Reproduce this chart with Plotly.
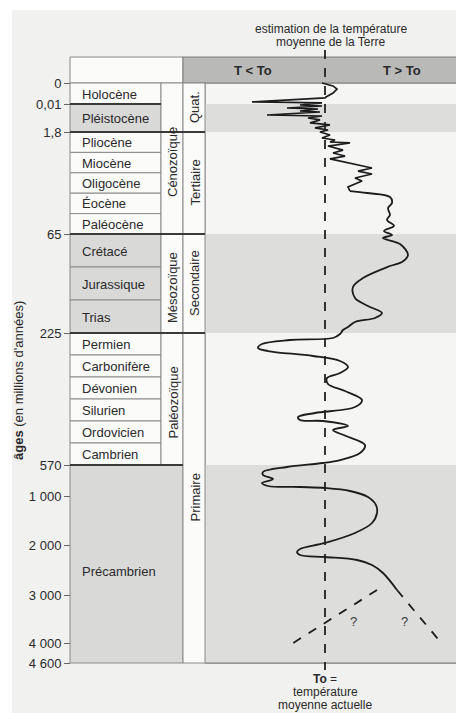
import numpy as np
import plotly.graph_objects as go

# ---------------- data ----------------
AGE_TICKS = [0, 0.01, 1.8, 65, 225, 570, 1000, 2000, 3000, 4000, 4600]
TICK_LABELS = ["0", "0,01", "1,8", "65", "225", "570", "1 000", "2 000", "3 000", "4 000", "4 600"]

QUAT_PERIODS = ["Holocène", "Pléistocène"]
QUAT_BOUNDS = [0, 0.01, 1.8]
TERT_PERIODS = ["Pliocène", "Miocène", "Oligocène", "Éocène", "Paléocène"]
MESO_PERIODS = ["Crétacé", "Jurassique", "Trias"]
PALEO_PERIODS = ["Permien", "Carbonifère", "Dévonien", "Silurien", "Ordovicien", "Cambrien"]
PRECAMB = "Précambrien"

ERAS = ["Cénozoïque", "Mésozoïque", "Paléozoïque"]
ERA_BOUNDS = [0, 65, 225, 570]
SYSTEMS = ["Quat.", "Tertiaire", "Secondaire", "Primaire"]
SYSTEM_BOUNDS = [0, 1.8, 65, 225, 4600]

GREY_BANDS = [(0.01, 1.8), (65, 225), (570, 4600)]

# temperature anomaly (relative to To) vs age (Ma)
RECENT_AGE = [0, 0.0014, 0.0029, 0.0048, 0.0067, 0.0071, 0.009, 0.0095,
              0.074, 0.138, 0.266, 0.33, 0.457, 0.52, 0.713, 0.777, 0.905, 1.03,
              1.22, 1.35, 1.54, 1.67, 1.8,
              3.66, 5.5, 6.76, 8.0, 8.6, 10.5, 13.0, 14.8, 16.7, 18.5, 21.0, 24.1,
              26.0, 27.8, 30.3, 32.2, 35.9, 38.4]
RECENT_T = [-0.3, 0.8, 1.2, 0.8, 0.1, 0.0, -7.3, -0.3,
            -2.5, -0.3, -3.8, -0.7, -2.5, -0.5, -5.8, -0.3, -1.7, -0.5,
            -1.5, 0.5, -1.0, 0.3, -0.5,
            0.5, -0.3, 1.0, 0.5, 2.5, 0.3, 1.8, 0.8, 2.0, 0.5, 2.5, 4.7,
            3.3, 4.7, 3.0, 3.7, 2.3, 2.5]

OLD_AGE = [38.4, 39.6, 42.1, 45.8, 48.9, 53.2, 56.3, 60.0, 63.1,
           66.6, 71.5, 81.2, 98.9, 110.2, 116.7, 136.1, 150.6, 168.4, 181.4,
           192.7, 200.7, 207.2, 215.3, 220.2,
           227.6, 238.1, 243.3, 253.8, 264.2, 272.1, 285.1, 298.2, 313.9, 329.6,
           342.6, 358.3, 376.6, 400.1, 418.4, 434.1, 444.6, 452.4, 455.0,
           468.1, 478.6, 494.2, 517.8, 538.7, 557.0, 564.8,
           597.7, 667.1, 708.7, 764.2, 819.7, 861.3, 875.1, 889.0, 930.6,
           1020, 1184, 1347, 1551, 1755, 1959,
           2080, 2140, 2200, 2240, 2300, 2400, 2560, 2900]
OLD_T = [2.5, 4.2, 6.5, 6.7, 6.3, 6.5, 6.2, 6.9, 5.9,
         6.7, 5.8, 7.5, 8.3, 7.7, 6.5, 3.8, 2.8, 3.0, 4.3,
         5.7, 5.0, 3.0, 2.3, 1.8,
         1.5, 0.8, -3.5, -6.3, -6.7, -5.7, -1.2, 1.5, 2.3, 1.5,
         0.2, 0.3, 2.0, 3.7, 3.0, -1.0, -2.7, -2.5, -0.2,
         2.3, 0.8, 2.1, 4.0, 3.5, 1.5, -0.2,
         -3.8, -6.2, -6.2, -5.2, -6.3, -5.7, -2.5, 0.0, 2.5,
         4.3, 5.1, 5.2, 4.7, 3.0, 0.0,
         -2.5, -2.8, -2.5, 0.0, 3.2, 4.7, 5.8, 7.2]

EXTRAP_AGE = [2900, 4060]
WARM_T = [7.2, 11.8]
COLD_T = [5.2, -3.5]
QMARK_AGE = 3560
QMARK_T = [2.8, 7.9]

# ---------------- layout helpers ----------------
W, H = 464, 713          # browser window
OFF = 8                  # default page body margin
WF, HF = W - OFF, H - OFF
PIX = [83, 104, 132, 234, 333, 465, 496, 545, 595, 643, 663]  # vertical scale breakpoints


def pos(age):
    return np.interp(age, AGE_TICKS, PIX)


def px(x):
    return (x - OFF) / WF


X_LEFT, X_C1, X_C2, X_C3, X_RIGHT = 70, 161, 183, 205, 464
X_TO = 325
Y_HEAD = 57
FONT = "Liberation Sans, Arial, sans-serif"
TXT = "#2a2a2a"
CELL_WHITE = "#fbfbfa"
CELL_GREY = "#d9d9d8"
BAND_WHITE = "#f5f5f4"
BAND_GREY = "#dddddc"
THIN = "#8a8a8a"
THICK = "#3a3a3a"

shapes = []
annotations = []


def rect(x0, x1, y0, y1, fill, line_color=THIN, lw=1):
    shapes.append(dict(type="rect", xref="paper", yref="y", x0=px(x0), x1=px(x1), y0=y0, y1=y1,
                       fillcolor=fill, line=dict(color=line_color, width=lw), layer="below"))


def hline(x0, x1, y, color=THIN, lw=1, layer="below"):
    shapes.append(dict(type="line", xref="paper", yref="y", x0=px(x0), x1=px(x1), y0=y, y1=y,
                       line=dict(color=color, width=lw), layer=layer))


def text(x, y, s, size=13, xanchor="center", angle=0, color=TXT):
    annotations.append(dict(xref="paper", yref="y", x=px(x), y=y, text=s, showarrow=False,
                            xanchor=xanchor, yanchor="middle", textangle=angle,
                            font=dict(family=FONT, size=size, color=color)))


# page background (scan)
shapes.append(dict(type="rect", xref="paper", yref="y", x0=px(12), x1=1.02, y0=10, y1=H + 5,
                   fillcolor="#f1f1ef", line=dict(width=0), layer="below"))

# plot area bands
rect(X_C3, X_RIGHT + 3, PIX[0], PIX[-1], BAND_WHITE, line_color=THIN)
for a0, a1 in GREY_BANDS:
    rect(X_C3, X_RIGHT + 3, pos(a0), pos(a1), BAND_GREY, line_color=BAND_GREY, lw=0)
hline(X_C3, X_RIGHT + 3, PIX[-1], color="#777", lw=1)

# header
rect(X_LEFT, X_C2, Y_HEAD, PIX[0], CELL_WHITE)
rect(X_C2, X_RIGHT + 3, Y_HEAD, PIX[0], "#b9b9b8", line_color="#7a7a7a")


def period_rows(names, a0, a1, greys):
    n = len(names)
    y0, y1 = pos(a0), pos(a1)
    for i, nm in enumerate(names):
        ya = y0 + (y1 - y0) * i / n
        yb = y0 + (y1 - y0) * (i + 1) / n
        rect(X_LEFT, X_C1, ya, yb, CELL_GREY if greys else CELL_WHITE)
        text(80, (ya + yb) / 2 + 0.5, nm, xanchor="left")


for i, nm in enumerate(QUAT_PERIODS):
    ya, yb = pos(QUAT_BOUNDS[i]), pos(QUAT_BOUNDS[i + 1])
    rect(X_LEFT, X_C1, ya, yb, CELL_GREY if i == 1 else CELL_WHITE)
    text(80, (ya + yb) / 2 + 0.5, nm, xanchor="left")
period_rows(TERT_PERIODS, 1.8, 65, False)
period_rows(MESO_PERIODS, 65, 225, True)
period_rows(PALEO_PERIODS, 225, 570, False)
rect(X_LEFT, X_C2, pos(570), pos(4600), CELL_GREY)
text(80, 571, PRECAMB, xanchor="left")

# column 2 eras
for i, nm in enumerate(ERAS):
    ya, yb = pos(ERA_BOUNDS[i]), pos(ERA_BOUNDS[i + 1])
    rect(X_C1, X_C2, ya, yb, CELL_WHITE)
    text((X_C1 + X_C2) / 2 + 0.5, (ya + yb) / 2 + 4, nm, angle=-90)

# column 3 systems
for i, nm in enumerate(SYSTEMS):
    ya, yb = pos(SYSTEM_BOUNDS[i]), pos(SYSTEM_BOUNDS[i + 1])
    rect(X_C2, X_C3, ya, yb, CELL_WHITE)
    text((X_C2 + X_C3) / 2 + 0.5, (ya + yb) / 2, nm, angle=-90)

# thick boundaries
hline(X_LEFT, X_C1, pos(0.01), THICK, 2)
for a in (1.8, 65, 225):
    hline(X_LEFT, X_C3, pos(a), THICK, 2)
hline(X_LEFT, X_C2, pos(570), THICK, 2)

# header texts
text(253, 70, "<b>T &lt; To</b>", size=13)
text(402, 70, "<b>T &gt; To</b>", size=13)
text(331, 29, "estimation de la température", size=12)
text(331, 42, "moyenne de la Terre", size=12)
text(X_TO, 679, "<b>To</b> =", size=12)
text(X_TO, 692, "température", size=12)
text(X_TO, 705, "moyenne actuelle", size=12)
text(18, 381, "<b>âges</b> (en millions d'années)", size=13, angle=-90)

# To reference line
shapes.append(dict(type="line", xref="x", yref="y", x0=0, x1=0, y0=50, y1=670,
                   line=dict(color="#222", width=1.8, dash="dash"), layer="above"))

fig = go.Figure()
fig.add_trace(go.Scatter(x=RECENT_T, y=pos(RECENT_AGE), mode="lines",
                         line=dict(color="#1c1c1c", width=1.7), hoverinfo="skip", showlegend=False))
fig.add_trace(go.Scatter(x=OLD_T, y=pos(OLD_AGE), mode="lines",
                         line=dict(color="#1c1c1c", width=1.8, shape="spline", smoothing=1.0),
                         hoverinfo="skip", showlegend=False))
for tt in (WARM_T, COLD_T):
    fig.add_trace(go.Scatter(x=tt, y=pos(EXTRAP_AGE), mode="lines",
                             line=dict(color="#1c1c1c", width=1.8, dash="dash"),
                             hoverinfo="skip", showlegend=False))
for qt in QMARK_T:
    annotations.append(dict(xref="x", yref="y", x=qt, y=float(pos(QMARK_AGE)), text="?",
                            showarrow=False, font=dict(family=FONT, size=13, color="#3a3a3a")))

fig.update_layout(
    width=WF, height=HF, margin=dict(l=0, r=0, t=0, b=0),
    paper_bgcolor="white", plot_bgcolor="rgba(0,0,0,0)",
    xaxis=dict(domain=[px(X_C3), 1], range=[(X_C3 - X_TO) / 10, (W - X_TO) / 10],
               visible=False, fixedrange=True),
    yaxis=dict(domain=[0, 1], range=[H, OFF], anchor="free", position=px(X_LEFT), side="left",
               tickvals=list(pos(AGE_TICKS)), ticktext=TICK_LABELS, ticks="outside", ticklen=6,
               tickcolor="#666", showgrid=False, zeroline=False, showline=False,
               tickfont=dict(family=FONT, size=13, color=TXT), fixedrange=True),
    shapes=shapes, annotations=annotations,
)
fig.write_html("out.html")
